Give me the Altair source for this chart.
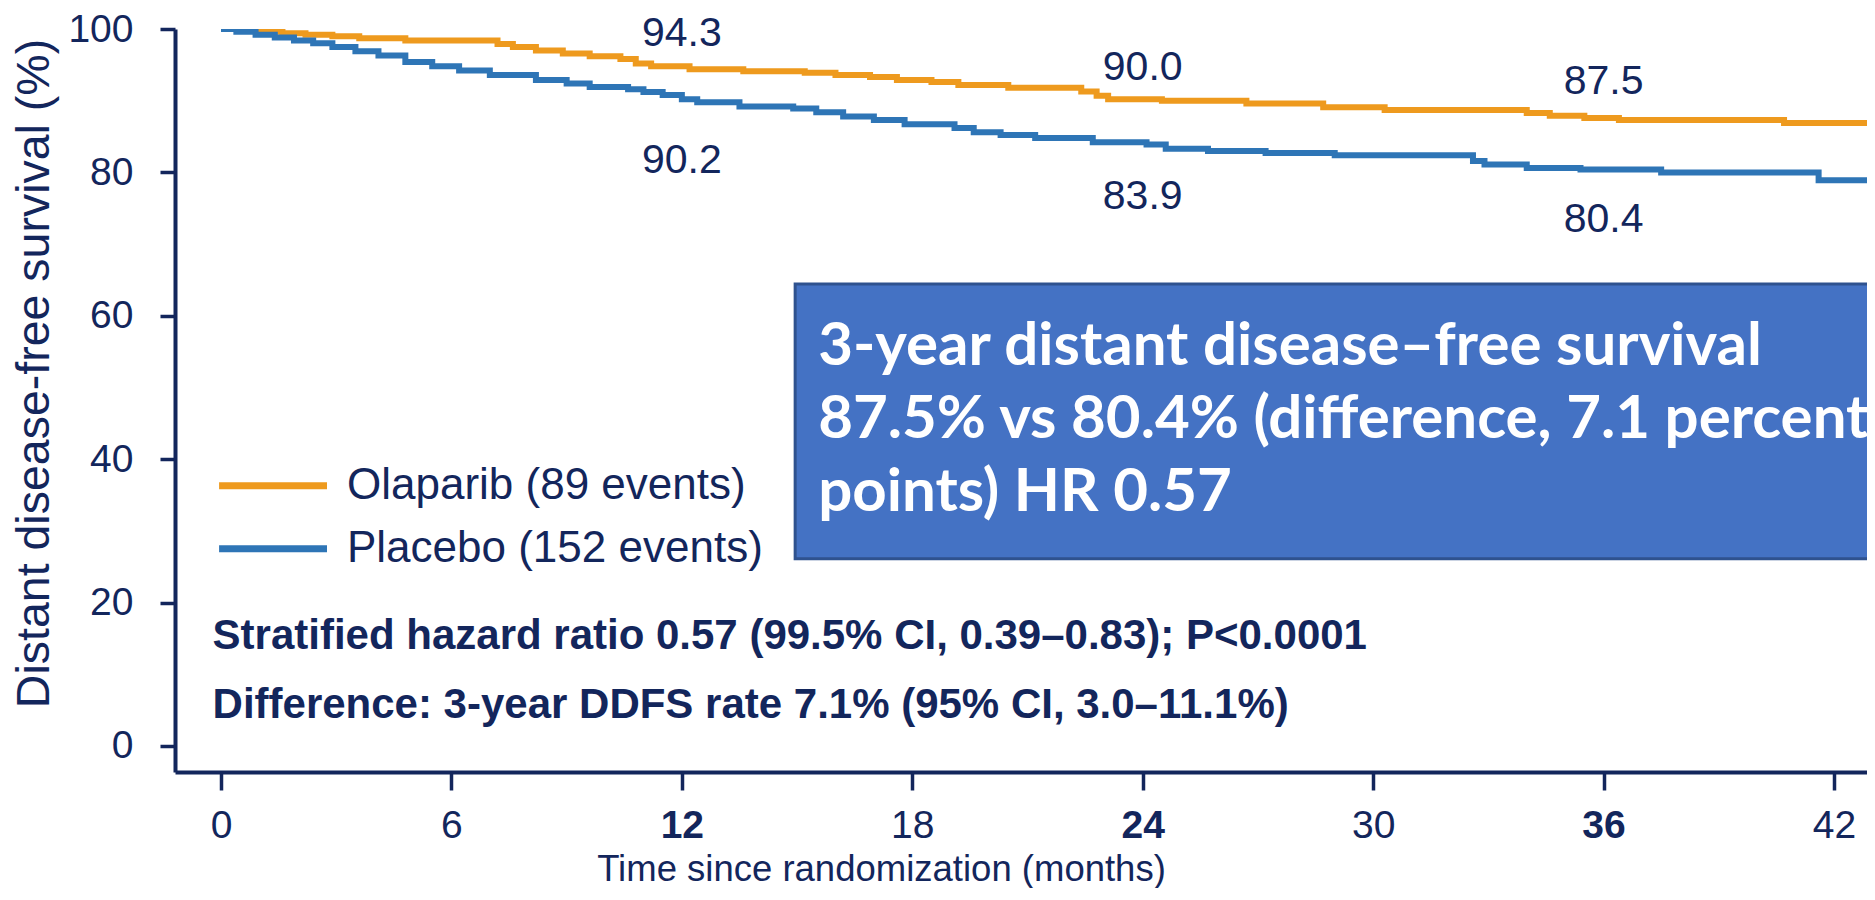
import altair as alt
import pandas as pd

# ---- Kaplan-Meier curves ----
ola_months = [0, 0.5, 1.0, 1.6, 2.2, 2.9, 3.6, 4.8, 7.2, 7.6, 8.2, 8.9, 9.6, 10.4, 10.8, 11.2, 12.2, 13.6, 15.2, 16.0,
              16.9, 17.6, 18.5, 19.2, 20.5, 22.4, 22.8, 23.1, 24.5, 26.7, 28.7, 30.3, 34.0, 34.6, 35.5, 36.4, 40.7, 43.1]
ola_surv = [100, 99.8, 99.6, 99.4, 99.2, 99.0, 98.7, 98.4, 97.9, 97.5, 97.0, 96.6, 96.2, 95.8, 95.2, 94.8, 94.4, 94.1, 93.9, 93.6,
            93.3, 92.9, 92.6, 92.2, 91.8, 91.3, 90.7, 90.2, 90.0, 89.6, 89.1, 88.7, 88.3, 87.9, 87.6, 87.3, 86.9, 86.9]

pla_months = [0, 0.4, 0.9, 1.4, 1.9, 2.4, 2.9, 3.5, 4.1, 4.8, 5.5, 6.2, 7.0, 8.2, 9.0, 9.6, 10.6, 11.0, 11.5, 12.0,
              12.4, 13.5, 14.9, 15.5, 16.2, 17.0, 17.8, 19.1, 19.6, 20.3, 21.2, 22.7, 24.1, 24.6, 25.7, 27.2, 29.0, 32.6, 32.9, 34.0,
              35.4, 37.5, 41.6, 43.1]
pla_surv = [100, 99.6, 99.2, 98.8, 98.4, 98.0, 97.5, 96.9, 96.3, 95.4, 94.8, 94.2, 93.6, 92.9, 92.4, 91.9, 91.6, 91.2, 90.8, 90.2,
            89.8, 89.2, 88.9, 88.4, 87.8, 87.3, 86.7, 86.2, 85.6, 85.2, 84.8, 84.2, 83.9, 83.3, 83.0, 82.7, 82.4, 81.6, 81.1, 80.6,
            80.4, 80.0, 78.9, 78.9]

arms = ["Olaparib", "Placebo"]
arm_colors = ["#EE9A1E", "#2E75B6"]

# ---- point estimates printed on the plot ----
label_month = [12, 12, 24, 24, 36, 36]
label_text = ["94.3", "90.2", "90.0", "83.9", "87.5", "80.4"]
label_level = [99.3, 81.6, 94.6, 76.5, 92.6, 73.4]

# ---- legend ----
legend_names = ["Olaparib (89 events)", "Placebo (152 events)"]
legend_level = [36.3, 27.5]
legend_x0, legend_x1, legend_text_x = -0.05, 2.76, 3.28

# ---- statistics text ----
stat_lines = ["Stratified hazard ratio 0.57 (99.5% CI, 0.39\u20130.83); P<0.0001",
              "Difference: 3-year DDFS rate 7.1% (95% CI, 3.0\u201311.1%)"]
stat_level = [15.3, 5.75]
stat_x = -0.22

# ---- highlighted box ----
box_lines = ["3-year distant disease\u2013free survival",
             "87.5% vs 80.4% (difference, 7.1 percentage",
             "points) HR 0.57"]
box_level = [55.7, 45.5, 35.3]
box_text_x = 15.55
box_x = [14.95, 45.0]
box_y = [26.1, 64.45]

x_ticks = [0, 6, 12, 18, 24, 30, 36, 42]
y_ticks = [0, 20, 40, 60, 80, 100]

NAVY = "#13265c"
FONT = "Liberation Sans, Arial, sans-serif"

km = pd.concat([
    pd.DataFrame({"month": ola_months, "surv": ola_surv, "arm": "Olaparib"}),
    pd.DataFrame({"month": pla_months, "surv": pla_surv, "arm": "Placebo"}),
])
labels = pd.DataFrame({"month": label_month, "surv": label_level, "txt": label_text})
legend_df = pd.DataFrame({"month": [legend_x0] * 2, "month2": [legend_x1] * 2, "tx": [legend_text_x] * 2,
                          "surv": legend_level, "arm": arms, "txt": legend_names})
stats = pd.DataFrame({"month": [stat_x] * 2, "surv": stat_level, "txt": stat_lines})
box = pd.DataFrame({"month": [box_x[0]], "month2": [box_x[1]], "surv": [box_y[0]], "surv2": [box_y[1]]})
box_txt = pd.DataFrame({"month": [box_text_x] * 3, "surv": box_level, "txt": box_lines})

xs = alt.Scale(domain=[-1.198, 42.86], nice=False, zero=False)
ys = alt.Scale(domain=[-3.63, 100], nice=False, zero=False)
cs = alt.Scale(domain=arms, range=arm_colors)

x_axis = alt.Axis(
    values=x_ticks, title="Time since randomization (months)", grid=False,
    domainColor=NAVY, domainWidth=4, tickColor=NAVY, tickWidth=3.5, tickSize=18,
    labelFont=FONT, labelFontSize=39, labelColor=NAVY, labelPadding=16,
    labelFontWeight={"condition": {"test": "datum.value == 12 || datum.value == 24 || datum.value == 36",
                                   "value": "bold"}, "value": "normal"},
    labelFlush=False, labelOverlap=False,
    titleFont=FONT, titleFontSize=36.5, titleColor=NAVY, titleFontWeight="normal",
    titleX=706, titleY=97, titleAlign="center", titleBaseline="middle",
)
y_axis = alt.Axis(
    values=y_ticks, title="Distant disease-free survival (%)", grid=False,
    domainColor=NAVY, domainWidth=4, tickColor=NAVY, tickWidth=3.5, tickSize=15,
    labelFont=FONT, labelFontSize=39, labelColor=NAVY, labelPadding=27,
    labelFlush=False, labelOverlap=False,
    titleFont=FONT, titleFontSize=46.5, titleColor=NAVY, titleFontWeight="normal",
    titleAngle=270, titleX=-141, titleY=344, titleAlign="center", titleBaseline="middle",
)

curves = alt.Chart(km).mark_line(interpolate="step-after", strokeWidth=6, clip=True).encode(
    x=alt.X("month:Q", scale=xs, axis=x_axis),
    y=alt.Y("surv:Q", scale=ys, axis=y_axis),
    color=alt.Color("arm:N", scale=cs, legend=None),
)

value_labels = alt.Chart(labels).mark_text(
    font=FONT, fontSize=41, color=NAVY, align="center", baseline="middle"
).encode(x=alt.X("month:Q", scale=xs), y=alt.Y("surv:Q", scale=ys), text="txt:N")

legend_lines = alt.Chart(legend_df).mark_rule(strokeWidth=7).encode(
    x=alt.X("month:Q", scale=xs), x2="month2:Q", y=alt.Y("surv:Q", scale=ys),
    color=alt.Color("arm:N", scale=cs, legend=None),
)
legend_text = alt.Chart(legend_df).mark_text(
    font=FONT, fontSize=44, color=NAVY, align="left", baseline="middle"
).encode(x=alt.X("tx:Q", scale=xs), y=alt.Y("surv:Q", scale=ys), text="txt:N")

stat_text = alt.Chart(stats).mark_text(
    font=FONT, fontSize=42, fontWeight="bold", color=NAVY, align="left", baseline="middle"
).encode(x=alt.X("month:Q", scale=xs), y=alt.Y("surv:Q", scale=ys), text="txt:N")

box_rect = alt.Chart(box).mark_rect(fill="#4472C4", stroke="#2F528F", strokeWidth=3, clip=True).encode(
    x=alt.X("month:Q", scale=xs), x2="month2:Q", y=alt.Y("surv:Q", scale=ys), y2="surv2:Q"
)
box_text = alt.Chart(box_txt).mark_text(
    font="Lato, Open Sans, sans-serif", fontSize=60, fontWeight="bold", color="white",
    align="left", baseline="middle"
).encode(x=alt.X("month:Q", scale=xs), y=alt.Y("surv:Q", scale=ys), text="txt:N")

chart = alt.layer(
    box_rect, curves, value_labels, legend_lines, legend_text, stat_text, box_text
).properties(
    width=1692, height=743,
    padding={"left": 167, "top": 21, "right": 0, "bottom": 116},
    autosize=alt.AutoSizeParams(type="none"),
    background="white",
).configure_view(stroke=None)

chart.save("out.html", embed_options={"renderer": "svg", "actions": False})
